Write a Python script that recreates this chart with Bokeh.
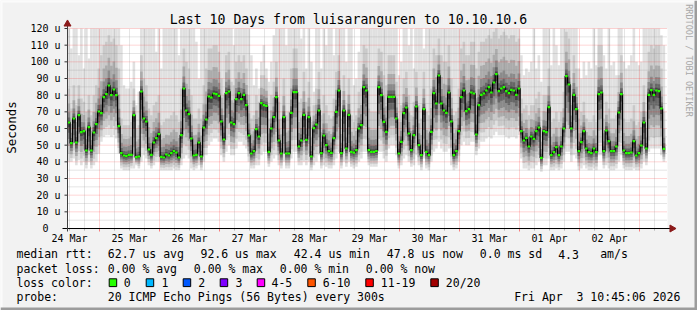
import datetime as dt
import math
import numpy as np
from bokeh.plotting import figure
from bokeh.models import Label, Range1d
from bokeh.core.properties import value
from bokeh.embed import file_html
from bokeh.resources import INLINE

FONT = "DejaVu Sans Mono"

# ---------------- data ----------------
START = dt.datetime(2026, 3, 24, 11, 45)   # first median sample, hourly steps
median = [
    63.6, 51.2, 66, 51.6, 68, 57.8, 58.4, 46.8, 60.8, 46.8, 57.6, 62.6, 70.2,
    69.2, 78.8, 80.6, 85.8, 80, 83.4, 80, 61.4,
    45.2, 43.8, 43.4, 44.2, 44.2, 68, 42.8, 43.2,
    82.2, 66, 64.2, 47.4, 44.2, 51.6, 54.2, 56.6,
    43, 42.6, 44.4, 43.8, 45.2, 46.4, 45.6, 42.6,
    56, 84, 70.8, 68.6, 54, 43.8, 44.2, 51.6, 43.2,
    60.6, 65.4, 79.2, 78.6, 81, 80.6, 79.6, 64.2,
    53.4, 81.2, 82.2, 63.6, 62.6, 77.6, 81.2, 77.6, 80.2, 74, 55.8,
    45, 46.4, 59.6, 55.2, 75.2, 74, 73.6, 46,
    60, 66.8, 78.8, 52.8, 45, 66.8, 45, 45, 69.4, 81.8,
    81.8, 49.2, 52.8, 68.2, 53.2, 66.8, 43.2, 60.2, 62.4, 70.8,
    45.2, 55.8, 50, 46.4, 45.4, 54.2, 70, 82.8, 45.2, 70.8, 48, 68.2,
    46, 45.5, 47, 60, 62, 84.8, 82.8, 47, 46, 46, 46.5, 84.8, 80,
    64, 58, 79, 79, 79, 66, 45, 52, 69.2, 72.6, 57, 47, 56, 73.2,
    50, 44, 71.6, 46, 44, 58, 81.2, 75, 91.8, 75, 70.8, 69.4, 81.6,
    64.2, 44, 46.4, 58.4,
    78.8, 82.8, 70.4, 71.6, 81.6, 81, 56.4, 74, 80.2, 81, 82.8, 84.8, 81.6, 87.6, 92.6, 82.4,
    84, 84.8, 82.4, 81.2, 83.2, 82.8, 80.2, 84,
    58.4, 52.8, 54.4, 49.2, 55.2, 53.8, 58.4, 60.6, 42.4, 58.4, 57.8, 72.8, 44, 45.8, 48.8, 44, 49.2, 60,
    91.4, 86.4, 60, 80.2, 71.6, 46.4, 51.8, 58.4, 48, 45.8, 45.2, 48, 45.8,
    80.6, 81.6, 46.4, 58.8, 52.4, 46.4, 46.4, 49.2, 69.6, 80.6,
    46.8, 45.2, 45.2, 45.6, 52.4, 43.8, 45.2, 49.8, 63.6, 48, 80.2, 83, 80.2, 82.8, 82.4, 72, 47.8,
]
smoke_lo = [
    40, 40, 42, 38, 41, 38, 40, 36, 40, 36, 38, 40, 45,
    52, 55, 56, 56, 55, 56, 54, 45,
    36, 35, 35, 35, 36, 36, 38, 36,
    40, 44, 42, 38, 36, 38, 40, 40,
    35, 35, 35, 35, 35, 36, 35, 35,
    38, 42, 44, 42, 36, 35, 36, 38, 35,
    40, 44, 50, 52, 54, 54, 52, 44,
    40, 46, 50, 44, 44, 48, 52, 52, 50, 48, 40,
    36, 36, 38, 38, 44, 46, 46, 37,
    40, 42, 44, 38, 36, 40, 36, 36, 42, 46,
    46, 38, 38, 40, 38, 40, 35, 38, 40, 44,
    36, 38, 37, 36, 36, 38, 42, 46, 36, 40, 37, 40,
    37, 36, 37, 40, 42, 46, 46, 38, 37, 37, 37, 46, 46,
    42, 40, 48, 50, 50, 44, 36, 38, 42, 44, 40, 37, 38, 44,
    38, 35, 42, 36, 35, 40, 46, 48, 52, 48, 46, 46, 48,
    38, 35, 36, 40,
    50, 52, 50, 50, 52, 52, 44, 48, 52, 52, 54, 55, 54, 56, 58, 56, 56, 56, 55, 54, 55, 55, 54, 56,
    42, 36, 36, 35, 36, 36, 38, 40, 34, 38, 38, 42, 35, 35, 36, 35, 36, 40,
    46, 46, 40, 44, 42, 35, 36, 38, 36, 35, 35, 36, 35,
    44, 44, 36, 38, 36, 35, 35, 36, 40, 44,
    36, 35, 35, 35, 36, 35, 35, 36, 40, 38, 46, 48, 48, 48, 48, 44, 40,
]
smoke_up = [
    84, 72, 86, 74, 86, 78, 76, 70, 80, 68, 80, 86, 96,
    104, 110, 112, 116, 112, 114, 110, 96,
    66, 62, 62, 62, 64, 84, 60, 62,
    104, 90, 86, 72, 68, 74, 76, 80,
    62, 64, 66, 66, 68, 70, 68, 64,
    84, 108, 100, 96, 80, 66, 66, 72, 66,
    86, 96, 108, 108, 110, 110, 106, 90,
    80, 104, 106, 88, 86, 100, 104, 100, 104, 96, 80,
    66, 68, 80, 76, 92, 92, 90, 66,
    80, 88, 100, 76, 66, 90, 68, 70, 96, 108,
    108, 76, 78, 94, 76, 88, 64, 74, 84, 94,
    68, 80, 74, 68, 66, 78, 94, 104, 66, 92, 70, 90,
    68, 64, 68, 82, 84, 110, 108, 72, 70, 70, 70, 108, 106,
    92, 86, 104, 104, 104, 88, 64, 74, 90, 94, 80, 68, 76, 94,
    74, 66, 94, 70, 68, 84, 108, 104, 114, 104, 100, 100, 110,
    90, 68, 70, 84,
    108, 112, 104, 104, 112, 112, 96, 106, 112, 112, 114, 116, 114, 118, 120, 114,
    116, 118, 116, 114, 116, 116, 112, 114,
    78, 72, 74, 68, 74, 74, 78, 82, 60, 80, 80, 96, 64, 66, 70, 64, 70, 82,
    118, 114, 86, 104, 96, 66, 70, 76, 66, 64, 64, 68, 64,
    110, 110, 66, 76, 72, 66, 66, 68, 92, 104,
    66, 64, 64, 66, 74, 62, 64, 70, 86, 70, 106, 110, 108, 110, 110, 96, 70,
]
smoke_hi = [
    120, 108, 120, 120, 104, 120, 96, 120, 102, 120, 120, 120, 120,
    120, 120, 120, 120, 120, 120, 120, 120,
    110, 86, 84, 84, 88, 100, 74, 82,
    120, 120, 120, 120, 120, 120, 106, 120,
    96, 120, 120, 120, 120, 120, 120, 104,
    120, 120, 120, 120, 120, 120, 112, 90, 120,
    120, 120, 120, 120, 120, 120, 120, 120,
    120, 120, 120, 120, 110, 120, 120, 120, 120, 120, 120,
    104, 86, 96, 84, 100, 110, 96, 88,
    100, 116, 120, 120, 120, 120, 110, 120, 120, 120,
    120, 120, 114, 120, 96, 120, 100, 82, 120, 120,
    96, 120, 110, 120, 120, 104, 120, 120, 120, 120, 100, 120,
    120, 86, 90, 106, 120, 120, 120, 120, 120, 120, 120, 120, 120,
    120, 120, 120, 120, 120, 120, 92, 100, 120, 120, 110, 120, 96, 120,
    120, 120, 108, 120, 120, 120, 120, 120, 120, 120, 120, 120, 120,
    120, 120, 120, 120,
    120, 120, 120, 120, 120, 120, 120, 120, 120, 120, 120, 120, 120, 120, 120, 120,
    120, 120, 120, 120, 120, 120, 120, 120,
    104, 92, 96, 94, 100, 120, 96, 104, 88, 120, 120, 120, 98, 120, 110, 98, 120, 120,
    120, 120, 120, 120, 120, 96, 90, 100, 92, 100, 96, 120, 98,
    120, 120, 104, 96, 120, 98, 100, 92, 120, 120,
    100, 96, 98, 104, 120, 100, 98, 100, 120, 120, 120, 120, 120, 120, 120, 116, 110,
]

day_labels = ["24 Mar", "25 Mar", "26 Mar", "27 Mar", "28 Mar",
              "29 Mar", "30 Mar", "31 Mar", "01 Apr", "02 Apr"]
y_ticks = [0, 10, 20, 30, 40, 50, 60, 70, 80, 90, 100, 110, 120]
y_tick_labels = ["0\u00a0\u00a0"] + ["%d u" % v for v in y_ticks[1:]]

loss_labels = ["0", "1", "2", "3", "4-5", "6-10", "11-19", "20/20"]
loss_colors = ["#26ff00", "#00b8ff", "#0059ff", "#7e00ff", "#ff00ff", "#ff5500", "#ff0000", "#a10000"]

title_text = "Last 10 Days from luisaranguren to 10.10.10.6"
legend_rows = [
    ["median rtt:", "62.7 us avg", "92.6 us max", "42.4 us min", "47.8 us now", "0.0 ms sd", "4.3", "am/s"],
    ["packet loss:", "0.00 % avg", "0.00 % max", "0.00 % min", "0.00 % now"],
    ["loss color:"],
    ["probe:", "20 ICMP Echo Pings (56 Bytes) every 300s", "Fri Apr\u00a0 3 10:45:06 2026"],
]

# ---------------- layout constants ----------------
W, H = 697, 310
PX_MIN = 24.0                              # minutes per pixel
REF = dt.datetime(2026, 3, 25, 0, 0)       # time at px 99
REF_PX = 99.0
V_PER_PX = 120.0 / 200.0
V0_PX = 228.0

def ms(d):
    return (d - dt.datetime(1970, 1, 1)).total_seconds() * 1000.0

def px_to_ms(px):
    return ms(REF) + (px - REF_PX) * PX_MIN * 60000.0

def py_to_v(py):
    return (V0_PX - py) * V_PER_PX

HOUR = 3600000.0
XS = px_to_ms(67)        # canvas start
XE = px_to_ms(667)       # canvas end

# frame covers the whole picture, so nothing outside it gets clipped
p = figure(width=W, height=H, x_range=Range1d(px_to_ms(0), px_to_ms(W)),
           y_range=Range1d(py_to_v(H), py_to_v(0)),
           output_backend="svg", toolbar_location=None,
           x_axis_location=None, y_axis_location=None,
           min_border=0, min_border_left=0, min_border_right=0,
           min_border_top=0, min_border_bottom=0,
           background_fill_color="#f2f2f2", border_fill_color="#f2f2f2",
           outline_line_color=None)
p.xgrid.visible = False
p.ygrid.visible = False

t = np.array([ms(START + dt.timedelta(hours=k)) for k in range(len(median))])
med = np.array(median, float)
lo = np.array(smoke_lo, float)
hi = np.array(smoke_hi, float)
up = np.minimum(np.array(smoke_up, float), hi)

# outer frame shading
p.quad(left=px_to_ms(0), right=px_to_ms(W), top=py_to_v(0), bottom=py_to_v(2),
       fill_color="#fbfbfb", line_color=None)
p.quad(left=px_to_ms(0), right=px_to_ms(2), top=py_to_v(0), bottom=py_to_v(H),
       fill_color="#fbfbfb", line_color=None)
p.quad(left=px_to_ms(W - 3), right=px_to_ms(W), top=py_to_v(0), bottom=py_to_v(H),
       fill_color="#9c9c9c", line_color=None)
p.quad(left=px_to_ms(0), right=px_to_ms(W), top=py_to_v(H - 3), bottom=py_to_v(H),
       fill_color="#9c9c9c", line_color=None)

# canvas
p.quad(left=XS, right=XE, bottom=0, top=120, fill_color="white", line_color=None)

# smoke layers (outer light -> inner dark)
greys = ["#e0e0e0", "#c9c9c9", "#ababab", "#8a8a8a", "#666666", "#444444"]
fr_lo = [1.0, 0.8, 0.6, 0.42, 0.26, 0.12]
for j, (a, c) in enumerate(zip(fr_lo, greys)):
    bot = med - a * (med - lo)
    if j == 0:
        top = hi
    elif j == 1:
        top = up
    else:
        top = med + [0, 0, 0.55, 0.3, 0.15, 0.06][j] * (up - med)
    p.vbar(x=t, width=HOUR * 1.04, bottom=bot, top=np.minimum(120, top),
           fill_color=c, line_color=None)

# grid
minor_v = [v + 5 for v in y_ticks[:-1]]
p.segment(x0=XS, x1=XE, y0=minor_v, y1=minor_v, line_color="#8c8c8c", line_alpha=0.45,
          line_dash="1 1", line_width=1)
p.segment(x0=XS, x1=XE, y0=y_ticks[1:], y1=y_ticks[1:], line_color="#ff0000", line_alpha=0.33,
          line_dash="1 1", line_width=1)
mid_days = [ms(dt.datetime(2026, 3, 25) + dt.timedelta(days=d)) for d in range(10)]
six_h = [ms(dt.datetime(2026, 3, 24, 12) + dt.timedelta(hours=6 * i)) for i in range(41)]
six_h = [s for s in six_h if XS < s < XE and s not in mid_days]
p.segment(x0=six_h, x1=six_h, y0=0, y1=120, line_color="#8c8c8c", line_alpha=0.45,
          line_dash="1 1", line_width=1)
p.segment(x0=mid_days, x1=mid_days, y0=0, y1=120, line_color="#ff0000", line_alpha=0.33,
          line_dash="1 1", line_width=1)

# ticks on the axes
tick3 = 3 * V_PER_PX
p.segment(x0=mid_days, x1=mid_days, y0=0, y1=-tick3, line_color="#ff0000", line_alpha=0.5)
p.segment(x0=six_h, x1=six_h, y0=0, y1=-tick3 * 0.7, line_color="#8c8c8c", line_alpha=0.6)
p.segment(x0=px_to_ms(64), x1=XS, y0=y_ticks, y1=y_ticks, line_color="#333333")

# median line
p.step(x=t, y=med, mode="center", line_color="black", line_width=1.2)
p.rect(x=t, y=med, width=2.6, height=2.2, width_units="screen", height_units="screen",
       fill_color=loss_colors[0], line_color=None)

# axis lines + arrows
p.segment(x0=px_to_ms(62), x1=px_to_ms(670), y0=0, y1=0, line_color="black", line_width=1)
p.segment(x0=XS, x1=XS, y0=-tick3, y1=py_to_v(25), line_color="#404040", line_width=1)
p.scatter(x=[px_to_ms(671.5)], y=[0], marker="triangle", size=7, angle=-math.pi / 2,
          fill_color="#8b1a1a", line_color="#8b1a1a")
p.scatter(x=[XS], y=[py_to_v(23.5)], marker="triangle", size=7,
          fill_color="#8b1a1a", line_color="#8b1a1a")

# tick labels
noon = [ms(dt.datetime(2026, 3, 24, 12) + dt.timedelta(days=d)) for d in range(len(day_labels))]
p.text(x=noon, y=py_to_v(238), text=day_labels, text_font=value(FONT), text_font_size="10px",
       text_align="center", text_baseline="middle", text_color="black")
p.text(x=px_to_ms(60), y=y_ticks, text=y_tick_labels, text_font=value(FONT), text_font_size="10px",
       text_align="right", text_baseline="middle", text_color="black")

def lab(px, py, text, size="11.5px", align="left", color="black", angle=0.0):
    p.add_layout(Label(x=px, y=H - py, x_units="screen", y_units="screen", text=text,
                       text_font=FONT, text_font_size=size, text_align=align,
                       text_baseline="middle", text_color=color, angle=angle))

lab(348, 19, title_text, size="13.2px", align="center")
lab(11, 127, "Seconds", size="12.5px", align="center", angle=math.pi / 2)
lab(688, 60, "RRDTOOL / TOBI OETIKER", size="8.5px", align="center", color="#a8a8a8",
    angle=-math.pi / 2)

row_y = [253.8, 268.0, 282.2, 296.4]
row_x = [
    [16, 107.3, 200, 293.3, 386.3, 479.3, 557.7, 599.7],
    [16, 107.3, 193.3, 279.3, 365.3],
    [16],
    [16, 107.3, 513.7],
]
for ry, xs, texts in zip(row_y, row_x, legend_rows):
    for x, s in zip(xs, texts):
        lab(x, ry, s)

box_x = [108.7, 145.7, 182.7, 219.7, 256.7, 307.3, 365.3, 430.3]
box_text_x = [123.3, 161, 197.7, 235, 271, 322.3, 380.3, 445.3]
p.quad(left=[px_to_ms(b) for b in box_x], right=[px_to_ms(b + 7.5) for b in box_x],
       top=py_to_v(278.3), bottom=py_to_v(286.1), fill_color=loss_colors,
       line_color="black", line_width=1)
for tx, s in zip(box_text_x, loss_labels):
    lab(tx, row_y[2], s)

open("out.html", "w").write(file_html(p, INLINE))
